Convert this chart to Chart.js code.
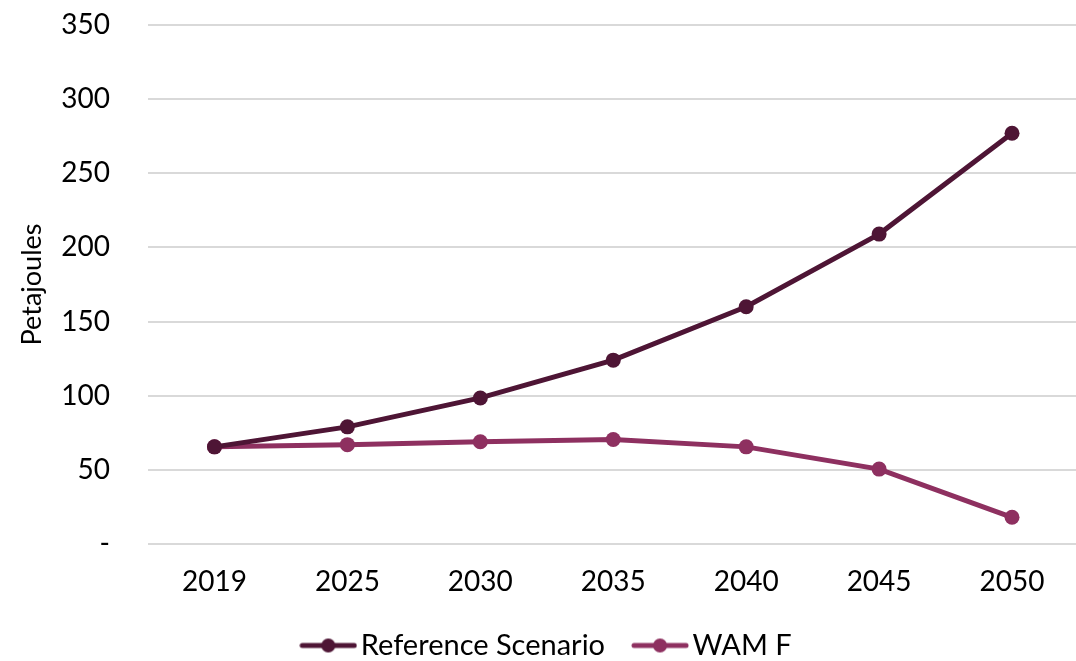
<!DOCTYPE html>
<html>
<head>
<meta charset="utf-8">
<script src="https://cdn.jsdelivr.net/npm/chart.js@4"></script>
<style>
  html, body { margin: 0; padding: 0; background: #fff; overflow: hidden; }
  #wrap { width: 1086px; height: 661px; position: relative; }
</style>
</head>
<body>
<div id="wrap"><canvas id="c"></canvas></div>
<script>
const categories = ['2019', '2025', '2030', '2035', '2040', '2045', '2050'];
const referenceScenario = [65.5, 79, 98.5, 124, 160, 209, 277];
const wamF = [65.5, 67, 69, 70.5, 65.5, 50.5, 18];
const yTickValues = [0, 50, 100, 150, 200, 250, 300, 350];
const seriesNames = ['Reference Scenario', 'WAM F'];
const seriesColors = ['#4E1535', '#8E3060'];
const yTitle = 'Petajoules';

const FONT = 'Lato, "Open Sans", sans-serif';

function legendIcon(color) {
  const c = document.createElement('canvas');
  c.width = 58; c.height = 18;
  const g = c.getContext('2d');
  g.strokeStyle = color; g.lineWidth = 5; g.lineCap = 'round';
  g.beginPath(); g.moveTo(3, 9); g.lineTo(55, 9); g.stroke();
  g.fillStyle = color;
  g.beginPath(); g.arc(29, 9, 7, 0, Math.PI * 2); g.fill();
  return c;
}
const icons = seriesColors.map(legendIcon);

new Chart(document.getElementById('c'), {
  type: 'line',
  data: {
    labels: categories,
    datasets: [
      { label: seriesNames[0], data: referenceScenario, borderColor: seriesColors[0], backgroundColor: seriesColors[0],
        borderWidth: 5, pointRadius: 7.5, pointHoverRadius: 7.5, pointBackgroundColor: seriesColors[0], pointBorderWidth: 0, tension: 0 },
      { label: seriesNames[1], data: wamF, borderColor: seriesColors[1], backgroundColor: seriesColors[1],
        borderWidth: 5, pointRadius: 7.5, pointHoverRadius: 7.5, pointBackgroundColor: seriesColors[1], pointBorderWidth: 0, tension: 0 }
    ]
  },
  options: {
    responsive: true,
    maintainAspectRatio: false,
    animation: false,
    layout: { padding: { top: 25, right: 0, bottom: -9, left: 16 } },
    scales: {
      x: {
        offset: true,
        grid: { display: false },
        border: { display: false },
        ticks: { color: '#000', font: { family: FONT, size: 28 }, padding: 13, maxRotation: 0 },
        afterFit(s) { s.height = 50; }
      },
      y: {
        min: 0, max: 350,
        afterBuildTicks(s) { s.ticks = yTickValues.map(v => ({ value: v })); },
        grid: { color: '#d9d9d9', lineWidth: 2, drawTicks: false },
        border: { display: false },
        ticks: {
          color: '#000', font: { family: FONT, size: 28 }, padding: 38,
          callback: v => v === 0 ? '-' : String(v)
        },
        title: { display: true, text: yTitle, color: '#000', font: { family: FONT, size: 27 }, padding: 0 },
        afterFit(s) { s.width = 132; s.paddingTop = 0; s.paddingBottom = 0; }
      }
    },
    plugins: {
      tooltip: { enabled: false },
      legend: {
        position: 'bottom',
        labels: {
          color: '#000',
          font: { family: FONT, size: 29 },
          usePointStyle: true,
          pointStyleWidth: 36,
          boxHeight: 18,
          padding: 37,
          generateLabels(chart) {
            return chart.data.datasets.map((d, i) => ({
              text: d.label, fillStyle: seriesColors[i], strokeStyle: seriesColors[i],
              lineWidth: 0, pointStyle: icons[i], hidden: false, datasetIndex: i, fontColor: '#000'
            }));
          }
        }
      }
    }
  }
});
</script>
</body>
</html>
